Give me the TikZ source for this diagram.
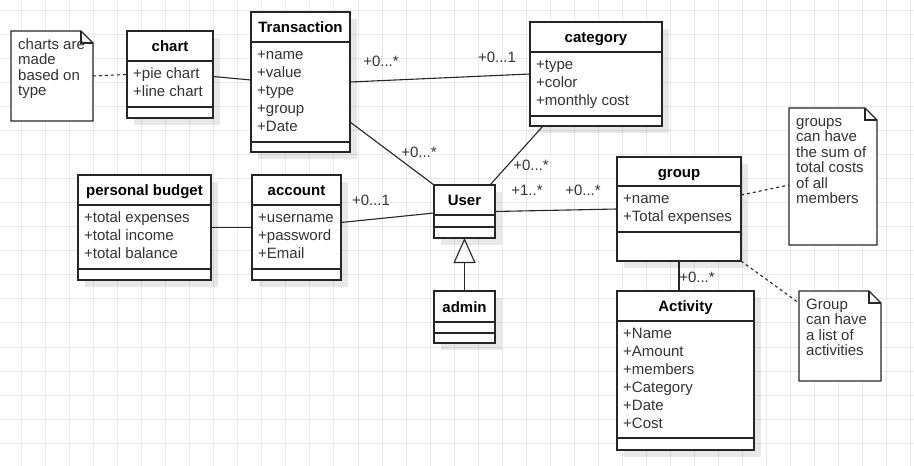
\documentclass[tikz,border=0pt]{standalone}
\usepackage{fontspec}
\setmainfont{Liberation Sans}
\usetikzlibrary{calc,shadows,arrows.meta}

% one class box: name, left, top, width, header height, attribute height, total height, title, attributes
\newcommand{\umlclass}[9]{%
  \node[umlbox, minimum width=#4pt, minimum height=#7pt] (#1) at (#2,#3) {};
  \draw[boxline] ($(#1.north west)+(0,#5)$) -- ++(#4,0);
  \draw[boxline] ($(#1.north west)+(0,#5+#6)$) -- ++(#4,0);
  \node[title] (#1-title) at ($(#1.north)+(0,#5/2+5.5)$) {#8};
  \foreach \atext [count=\n] in {#9}
    \node[attr] (#1-a\n) at ($(#1.north west)+(6,#5+17+18*\n-18)$) {\atext};
}
% one note with folded corner: name, left, top, width, height, lines
\newcommand{\umlnote}[6]{%
  \node[anchor=north west, inner sep=0pt, outer sep=0pt, minimum width=#4pt, minimum height=#5pt] (#1) at (#2,#3) {};
  \draw[boxline, fill=white] (#1.north west) -- ([xshift=-12pt]#1.north east) -- ([yshift=-12pt]#1.north east)
    -- (#1.south east) -- (#1.south west) -- cycle;
  \draw[boxline] ([xshift=-12pt]#1.north east) -- ([xshift=-12pt,yshift=-12pt]#1.north east) -- ([yshift=-12pt]#1.north east);
  \foreach \atext [count=\n] in {#6}
    \node[notetext] (#1-l\n) at ($(#1.north west)+(7,18+15.5*\n-15.5)$) {\atext};
}

\begin{document}
\begin{tikzpicture}[x=1pt, y=-1pt,
    umlbox/.style={draw=black!85, line width=1.1pt, fill=white, anchor=north west, inner sep=0pt, outer sep=0pt,
      drop shadow={shadow xshift=7pt, shadow yshift=-7pt, fill=black, opacity=0.09}},
    boxline/.style={draw=black!85, line width=1.1pt},
    title/.style={anchor=base, inner sep=0pt, font=\fontsize{15}{18}\selectfont\bfseries},
    attr/.style={anchor=base west, inner sep=0pt, text=black!80, font=\fontsize{15}{18}\selectfont},
    notetext/.style={anchor=base west, inner sep=0pt, text=black!80, font=\fontsize{15}{15.5}\selectfont},
    mult/.style={inner sep=0pt, text=black!80, font=\fontsize{15}{18}\selectfont},
    link/.style={draw=black!85, line width=1.1pt},
    notelink/.style={draw=black!85, line width=1.1pt, dash pattern=on 3pt off 3pt},
    gridline/.style={draw=black!9, line width=0.8pt}]

  \useasboundingbox (0,0) rectangle (914,466);
  \fill[white] (0,0) rectangle (914,466);
  % background grid
  \foreach \k in {-1,...,37}
    \draw[gridline] (21.5+24.03*\k,0) -- (21.5+24.03*\k,466);
  \foreach \k in {0,...,19}
    \draw[gridline] (0,10.5+24.03*\k) -- (914,10.5+24.03*\k);

  % classes
  \umlclass{chart}{127}{31}{86}{30}{46}{87}{chart}{+pie chart,+line chart}
  \umlclass{trans}{251}{12}{99}{30}{100}{140}{Transaction}{+name,+value,+type,+group,+Date}
  \umlclass{category}{530}{22}{132}{30}{64}{104}{category}{+type,+color,+monthly cost}
  \umlclass{budget}{78}{175}{133}{30}{64}{105}{personal budget}{+total expenses,+total income,+total balance}
  \umlclass{account}{252}{175}{89}{30}{64}{105}{account}{+username,+password,+Email}
  \umlclass{user}{434}{185}{61}{30}{12}{53}{User}{}
  \umlclass{admin}{434}{291}{61}{31}{11}{52}{admin}{}
  \umlclass{group}{617}{157}{124}{29}{46}{104}{group}{+name,+Total expenses}
  \umlclass{activity}{617}{291}{137}{30}{117}{159}{Activity}{+Name,+Amount,+members,+Category,+Date,+Cost}

  % notes
  \umlnote{notechart}{11}{31}{82}{90}{charts are,made,based on,type}
  \umlnote{notegroup}{789}{108}{88}{137}{groups,can have,the sum of,total costs,of all,members}
  \umlnote{noteact}{799}{291}{82}{90}{Group,can have,a list of,activities}

  % associations
  \draw[notelink] (notechart.east) -- (chart.west);
  \draw[link] ([yshift=-2pt]chart.east) -- ([yshift=2pt]trans.west);
  \draw[link] (trans.east) -- (category.west);
  \draw[link] ([yshift=-40pt]trans.east) -- (user.north west);
  \draw[link] ([xshift=-53pt]category.south) -- ([xshift=-5pt]user.north east);
  \draw[link] (budget.east) -- (account.west);
  \draw[link] ([yshift=5pt]account.east) -- ([yshift=-1.5pt]user.west);
  \draw[link] (user.east) -- (group.west);
  \draw[link] (group.south) -- (group.south |- activity.north);
  \draw[notelink] ([yshift=14pt]group.east) -- ([yshift=-8.5pt]notegroup.west);
  \draw[notelink] (group.south east) -- ([yshift=-12pt]noteact.north west);
  \draw[link, -{Triangle[open, length=25pt, width=22pt]}] (admin.north) -- (user.south);

  % multiplicities
  \node[mult] (m1) at (381,61) {+0...*};
  \node[mult] (m2) at (497,57) {+0...1};
  \node[mult] (m3) at (419,152) {+0...*};
  \node[mult] (m4) at (531,165) {+0...*};
  \node[mult] (m5) at (527,190) {+1..*};
  \node[mult] (m6) at (583,190) {+0...*};
  \node[mult] (m7) at (371,200) {+0...1};
  \node[mult] (m8) at (697,277) {+0...*};
\end{tikzpicture}
\end{document}
